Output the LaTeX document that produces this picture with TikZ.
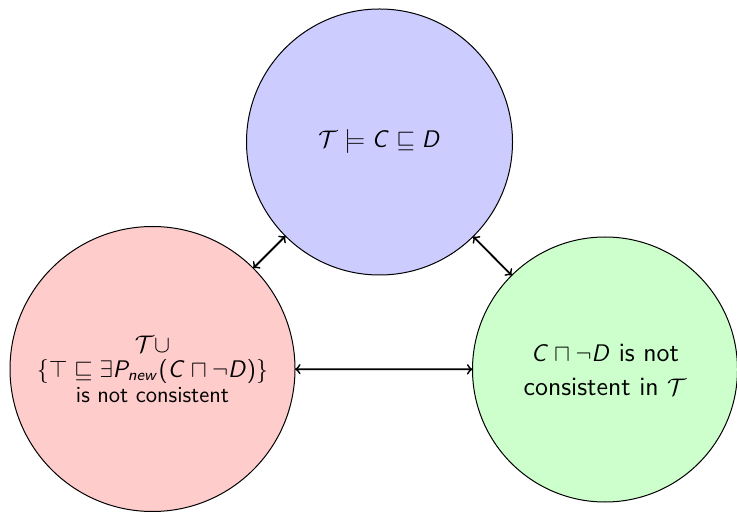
\documentclass[tikz,border=0pt]{standalone}
\DeclareSymbolFont{sfit}{OT1}{cmss}{m}{sl}
\SetSymbolFont{operators}{normal}{OT1}{cmss}{m}{n}
\DeclareMathSymbol{C}{\mathalpha}{sfit}{`C}
\DeclareMathSymbol{D}{\mathalpha}{sfit}{`D}
\DeclareMathSymbol{P}{\mathalpha}{sfit}{`P}
\DeclareMathSymbol{n}{\mathalpha}{sfit}{`n}
\DeclareMathSymbol{e}{\mathalpha}{sfit}{`e}
\DeclareMathSymbol{w}{\mathalpha}{sfit}{`w}
\begin{document}
\begin{tikzpicture}[x=0.5pt,y=-0.5pt,
  bubble/.style={circle, draw=black, line width=0.5pt, inner sep=0pt, outer sep=0pt, align=center, font=\sffamily\fontsize{11.5}{12.5}\selectfont},
  link/.style={<->, >=to, line width=0.9pt}]
\useasboundingbox (0,0) rectangle (737,512);
\node[bubble, fill=blue!20, minimum size=133pt, font=\sffamily\fontsize{13}{15}\selectfont] (top) at (379.5,142) {$\mathcal{T} \models C \sqsubseteq D$};
\node[bubble, fill=red!20, minimum size=142.5pt] (left) at (152.5,369) {$\mathcal{T} \cup$\\ $\{\top \sqsubseteq \exists P_{new}(C \sqcap \neg D)\}$\\ is not consistent};
\node[bubble, fill=green!20, minimum size=132.5pt, font=\sffamily\fontsize{13.2}{17}\selectfont] (right) at (605,369.5) {$C \sqcap \neg D$ is not\\ consistent in $\mathcal{T}$};
\draw[link] (left) -- (top);
\draw[link] (top) -- (right);
\draw[link] (left) -- (right);
\end{tikzpicture}
\end{document}
